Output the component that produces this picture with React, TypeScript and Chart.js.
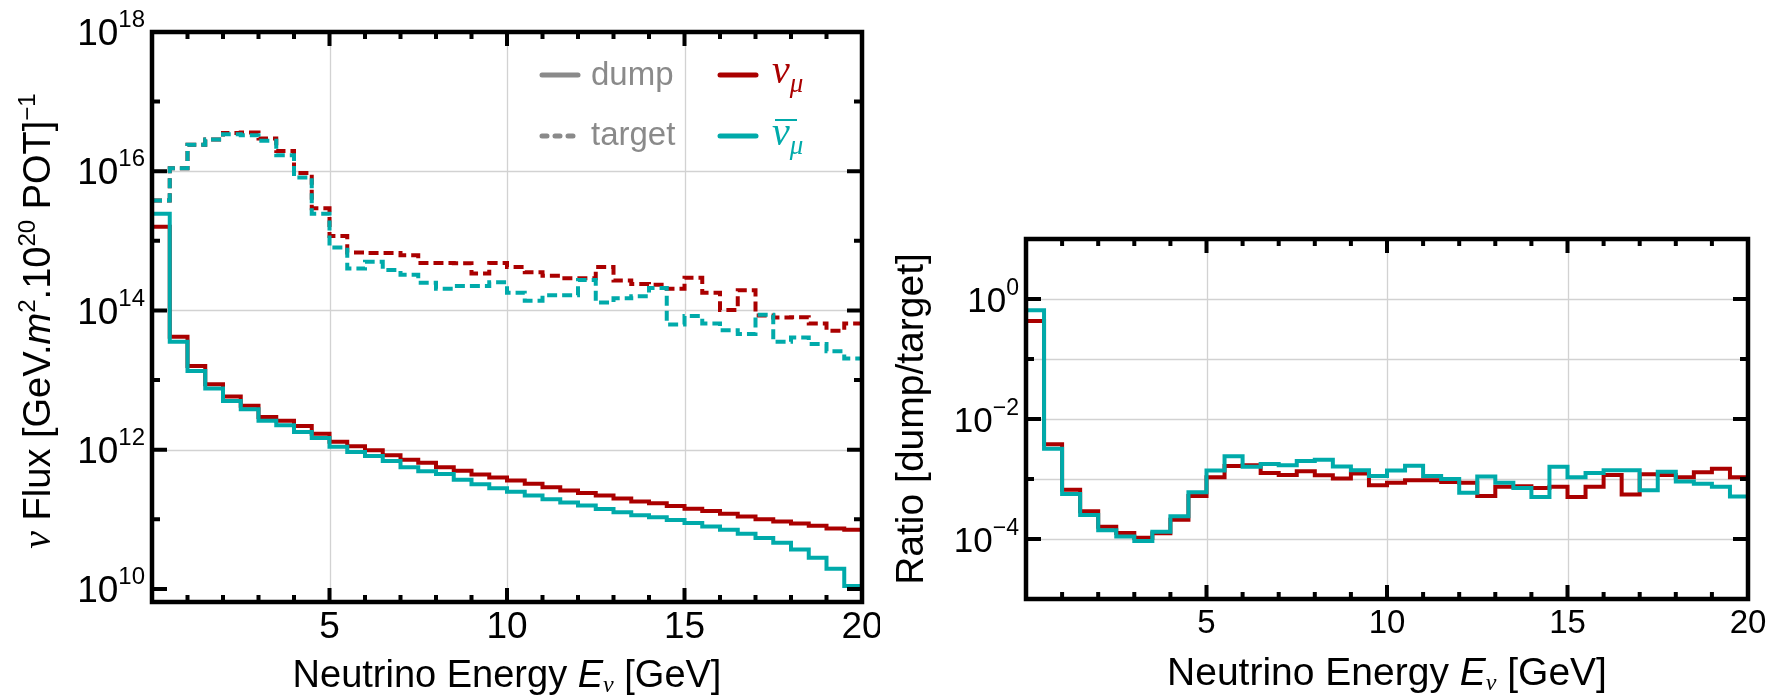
import React, { useEffect, useRef } from 'react';
import { Chart, registerables } from 'chart.js';

Chart.register(...registerables);

// ---------- data ----------
const BIN_EDGES = [0, 0.5, 1, 1.5, 2, 2.5, 3, 3.5, 4, 4.5, 5, 5.5, 6, 6.5, 7, 7.5, 8, 8.5, 9, 9.5, 10,
  10.5, 11, 11.5, 12, 12.5, 13, 13.5, 14, 14.5, 15, 15.5, 16, 16.5, 17, 17.5, 18, 18.5, 19, 19.5, 20];

const TARGET_NUMU = [3.8e15, 1.1e16, 2.4e16, 2.85e16, 3.55e16, 3.6e16, 2.95e16, 1.95e16, 9.4e15, 2.95e15,
  1.17e15, 6.8e14, 6.7e14, 6.7e14, 6.2e14, 4.8e14, 4.8e14, 4.75e14, 3.4e14, 4.8e14,
  4.2e14, 3.55e14, 3.15e14, 2.9e14, 2.9e14, 4.2e14, 2.7e14, 2.4e14, 2.35e14, 2.05e14,
  2.95e14, 1.8e14, 1.02e14, 1.95e14, 8.5e13, 7.9e13, 8.0e13, 6.5e13, 5.1e13, 6.5e13];

const TARGET_NUMUBAR = [3.8e15, 1.1e16, 2.4e16, 2.85e16, 3.4e16, 3.3e16, 2.75e16, 1.7e16, 8.1e15, 2.45e15,
  8.0e14, 4.0e14, 5.0e14, 3.8e14, 3.25e14, 2.5e14, 2.05e14, 2.25e14, 2.25e14, 2.55e14,
  1.8e14, 1.38e14, 1.65e14, 1.65e14, 2.75e14, 1.3e14, 1.5e14, 1.6e14, 2.1e14, 6.3e13,
  8.3e13, 6.5e13, 5.2e13, 4.6e13, 8.7e13, 3.55e13, 4.1e13, 3.3e13, 2.6e13, 2.05e13];

const DUMP_NUMU = [1.6e15, 4.2e13, 1.6e13, 8.7e12, 5.8e12, 4.3e12, 2.95e12, 2.6e12, 2.2e12, 1.7e12,
  1.3e12, 1.12e12, 9.8e11, 8.3e11, 7.2e11, 6.5e11, 5.6e11, 5.0e11, 4.4e11, 4.0e11,
  3.6e11, 3.25e11, 2.9e11, 2.6e11, 2.4e11, 2.2e11, 2.0e11, 1.8e11, 1.7e11, 1.55e11,
  1.42e11, 1.32e11, 1.2e11, 1.1e11, 1.0e11, 9.3e10, 8.7e10, 8.1e10, 7.4e10, 7.1e10];

const DUMP_NUMUBAR = [2.45e15, 3.55e13, 1.35e13, 7.6e12, 5.0e12, 3.8e12, 2.6e12, 2.25e12, 1.8e12, 1.48e12,
  1.1e12, 9.3e11, 8.1e11, 6.9e11, 5.6e11, 4.9e11, 4.5e11, 3.7e11, 3.2e11, 2.8e11,
  2.5e11, 2.2e11, 1.95e11, 1.74e11, 1.58e11, 1.41e11, 1.26e11, 1.15e11, 1.07e11, 9.8e10,
  8.9e10, 7.9e10, 7.1e10, 6.2e10, 5.4e10, 4.6e10, 3.7e10, 2.8e10, 1.95e10, 1.1e10];

const RATIO_NUMU = [0.43, 3.8e-3, 6.6e-4, 2.9e-4, 1.6e-4, 1.26e-4, 1.05e-4, 1.25e-4, 2.1e-4, 5.2e-4,
  1.07e-3, 1.65e-3, 1.7e-3, 1.26e-3, 1.17e-3, 1.35e-3, 1.15e-3, 1.02e-3, 1.23e-3, 7.9e-4,
  8.7e-4, 9.5e-4, 9.5e-4, 8.9e-4, 8.7e-4, 5.2e-4, 7.4e-4, 7.6e-4, 7.1e-4, 7.4e-4,
  5.0e-4, 7.4e-4, 1.17e-3, 5.5e-4, 1.2e-3, 1.17e-3, 1.07e-3, 1.29e-3, 1.48e-3, 1.07e-3];

const RATIO_NUMUBAR = [0.65, 3.2e-3, 5.6e-4, 2.5e-4, 1.4e-4, 1.1e-4, 9.3e-5, 1.32e-4, 2.4e-4, 6.0e-4,
  1.38e-3, 2.4e-3, 1.6e-3, 1.78e-3, 1.7e-3, 2.0e-3, 2.1e-3, 1.62e-3, 1.4e-3, 1.12e-3,
  1.38e-3, 1.66e-3, 1.12e-3, 1.0e-3, 5.9e-4, 1.1e-3, 8.7e-4, 7.1e-4, 5.0e-4, 1.6e-3,
  1.07e-3, 1.26e-3, 1.4e-3, 1.4e-3, 6.5e-4, 1.32e-3, 9.1e-4, 8.3e-4, 7.4e-4, 5.1e-4];

const X_LABELS = [5, 10, 15, 20];
const X_GRID = [5, 10, 15];
const X_MAJOR = [5, 10, 15];
const X_MINOR = [1, 2, 3, 4, 6, 7, 8, 9, 11, 12, 13, 14, 16, 17, 18, 19];

const FLUX_Y_LABEL_EXP = [10, 12, 14, 16, 18];
const FLUX_Y_GRID_EXP = [12, 14, 16];
const FLUX_Y_MAJOR_EXP = [10, 12, 14, 16];
const FLUX_Y_MINOR_EXP = [11, 13, 15, 17];

const RATIO_Y_LABEL_EXP = [0, -2, -4];
const RATIO_Y_GRID_EXP = [0, -1, -2, -3, -4];
const RATIO_Y_MAJOR_EXP = [0, -2, -4];
const RATIO_Y_MINOR_EXP = [-1, -3];

// ---------- style ----------
const RED = '#aa0000';
const CYAN = '#00aaaa';
const GRAY = '#8a8a8a';
const GRID = '#d2d2d2';
const SANS = '"Liberation Sans", Arial, sans-serif';
const SERIF = '"Liberation Serif", "Times New Roman", serif';

type Seg = { t: string; font: string; dy?: number; color?: string };

function drawRich(ctx: CanvasRenderingContext2D, segs: Seg[], x: number, y: number, align: string, color: string) {
  let total = 0;
  for (const s of segs) { ctx.font = s.font; total += ctx.measureText(s.t).width; }
  let cx = align === 'right' ? x - total : align === 'center' ? x - total / 2 : x;
  ctx.textAlign = 'left';
  ctx.textBaseline = 'alphabetic';
  for (const s of segs) {
    ctx.font = s.font;
    ctx.fillStyle = s.color || color;
    ctx.fillText(s.t, cx, y + (s.dy || 0));
    cx += ctx.measureText(s.t).width;
  }
}

const steps = (vals: number[]) => BIN_EDGES.map((x, i) => ({ x, y: vals[Math.min(i, vals.length - 1)] }));

type Decor = {
  yLabelExp: number[]; yGridExp: number[]; yMajorExp: number[]; yMinorExp: number[];
  tickFont: number; supFont: number; supDy: number; xLabelFont: number;
  xTitleFont: number; yTitle: Seg[]; yTitleX: number; yTitleDy: number; xTitleDy: number;
  extra?: (ctx: CanvasRenderingContext2D) => void;
};

function makeDecor(d: Decor) {
  return {
    id: 'decor',
    beforeDatasetsDraw(chart: any) {
      const { ctx, chartArea: a, scales } = chart;
      ctx.save();
      ctx.strokeStyle = GRID;
      ctx.lineWidth = 1.3;
      ctx.beginPath();
      for (const v of X_GRID) {
        const px = Math.round(scales.x.getPixelForValue(v)) + 0.5;
        ctx.moveTo(px, a.top); ctx.lineTo(px, a.bottom);
      }
      for (const e of d.yGridExp) {
        const py = Math.round(scales.y.getPixelForValue(Math.pow(10, e))) + 0.5;
        ctx.moveTo(a.left, py); ctx.lineTo(a.right, py);
      }
      ctx.stroke();
      ctx.restore();
    },
    afterDraw(chart: any) {
      const { ctx, chartArea: a, scales } = chart;
      ctx.save();
      // ticks
      ctx.strokeStyle = '#000';
      ctx.lineWidth = 4;
      ctx.lineCap = 'butt';
      ctx.beginPath();
      const xt = (vals: number[], len: number) => {
        for (const v of vals) {
          const px = scales.x.getPixelForValue(v);
          ctx.moveTo(px, a.bottom); ctx.lineTo(px, a.bottom - len);
          ctx.moveTo(px, a.top); ctx.lineTo(px, a.top + len);
        }
      };
      const yt = (exps: number[], len: number) => {
        for (const e of exps) {
          const py = scales.y.getPixelForValue(Math.pow(10, e));
          ctx.moveTo(a.left, py); ctx.lineTo(a.left + len, py);
          ctx.moveTo(a.right, py); ctx.lineTo(a.right - len, py);
        }
      };
      xt(X_MAJOR, 14); xt(X_MINOR, 7);
      yt(d.yMajorExp, 15); yt(d.yMinorExp, 8);
      ctx.stroke();
      // frame
      ctx.lineWidth = 4.5;
      ctx.strokeRect(a.left, a.top, a.right - a.left, a.bottom - a.top);
      // y tick labels
      for (const e of d.yLabelExp) {
        const py = scales.y.getPixelForValue(Math.pow(10, e));
        const exp = e < 0 ? '\u2212' + String(-e) : String(e);
        drawRich(ctx, [
          { t: '10', font: `${d.tickFont}px ${SANS}` },
          { t: exp, font: `${d.supFont}px ${SANS}`, dy: -d.supDy },
        ], a.left - 7, py + d.tickFont * 0.358, 'right', '#000');
      }
      // x tick labels
      ctx.font = `${d.xLabelFont}px ${SANS}`;
      ctx.fillStyle = '#000';
      ctx.textAlign = 'center';
      ctx.textBaseline = 'alphabetic';
      for (const v of X_LABELS) {
        const px = scales.x.getPixelForValue(v);
        ctx.fillText(String(v), px, a.bottom + 10 + d.xLabelFont * 0.716);
      }
      // x title
      const xf = d.xTitleFont;
      drawRich(ctx, [
        { t: 'Neutrino Energy ', font: `${xf}px ${SANS}` },
        { t: 'E', font: `italic ${xf}px ${SANS}` },
        { t: '\u03BD', font: `italic ${Math.round(xf * 0.62)}px ${SERIF}`, dy: 5 },
        { t: ' [GeV]', font: `${xf}px ${SANS}` },
      ], (a.left + a.right) / 2, a.bottom + d.xTitleDy, 'center', '#000');
      // y title
      ctx.save();
      ctx.translate(d.yTitleX, (a.top + a.bottom) / 2 + d.yTitleDy);
      ctx.rotate(-Math.PI / 2);
      drawRich(ctx, d.yTitle, 0, 0, 'center', '#000');
      ctx.restore();
      if (d.extra) d.extra(ctx);
      ctx.restore();
    },
  };
}

function fluxLegend(ctx: CanvasRenderingContext2D) {
  ctx.save();
  ctx.lineCap = 'round';
  ctx.lineWidth = 5;
  ctx.strokeStyle = GRAY;
  ctx.beginPath(); ctx.moveTo(542, 75); ctx.lineTo(578, 75); ctx.stroke();
  ctx.setLineDash([5, 8]);
  ctx.beginPath(); ctx.moveTo(542, 136); ctx.lineTo(578, 136); ctx.stroke();
  ctx.setLineDash([]);
  ctx.strokeStyle = RED;
  ctx.beginPath(); ctx.moveTo(720, 75); ctx.lineTo(756, 75); ctx.stroke();
  ctx.strokeStyle = CYAN;
  ctx.beginPath(); ctx.moveTo(720, 136); ctx.lineTo(756, 136); ctx.stroke();
  ctx.restore();

  drawRich(ctx, [{ t: 'dump', font: `33px ${SANS}` }], 591, 85, 'left', GRAY);
  drawRich(ctx, [{ t: 'target', font: `33px ${SANS}` }], 591, 145, 'left', GRAY);
  drawRich(ctx, [
    { t: '\u03BD', font: `italic 40px ${SERIF}` },
    { t: '\u03BC', font: `italic 27px ${SERIF}`, dy: 9 },
  ], 772, 83, 'left', RED);
  drawRich(ctx, [
    { t: '\u03BD', font: `italic 40px ${SERIF}` },
    { t: '\u03BC', font: `italic 27px ${SERIF}`, dy: 9 },
  ], 772, 145, 'left', CYAN);
  ctx.save();
  ctx.strokeStyle = CYAN;
  ctx.lineWidth = 2;
  ctx.beginPath(); ctx.moveTo(775, 120); ctx.lineTo(797, 120); ctx.stroke();
  ctx.restore();
}

function lineDs(vals: number[], color: string, dashed: boolean, order: number) {
  return {
    data: steps(vals),
    borderColor: color,
    backgroundColor: color,
    borderWidth: 4,
    borderDash: dashed ? [10, 5] : [],
    stepped: true,
    pointRadius: 0,
    fill: false,
    order,
    borderJoinStyle: 'miter',
  };
}

function baseOptions(yMin: number, yMax: number, yWidth: number, xHeight: number, padding: any) {
  return {
    responsive: false,
    animation: false,
    events: [],
    layout: { padding },
    plugins: { legend: { display: false }, tooltip: { enabled: false }, title: { display: false } },
    scales: {
      x: {
        type: 'linear', min: 0, max: 20,
        grid: { display: false }, border: { display: false }, ticks: { display: false },
        afterFit: (s: any) => { s.height = xHeight; },
      },
      y: {
        type: 'logarithmic', min: yMin, max: yMax,
        grid: { display: false }, border: { display: false }, ticks: { display: false },
        afterFit: (s: any) => { s.width = yWidth; },
      },
    },
  };
}

function FluxChart() {
  const ref = useRef<HTMLCanvasElement>(null);
  useEffect(() => {
    const decor = makeDecor({
      yLabelExp: FLUX_Y_LABEL_EXP, yGridExp: FLUX_Y_GRID_EXP, yMajorExp: FLUX_Y_MAJOR_EXP, yMinorExp: FLUX_Y_MINOR_EXP,
      tickFont: 37, supFont: 24, supDy: 18, xLabelFont: 37, xTitleFont: 38, xTitleDy: 85, yTitleX: 50, yTitleDy: 4,
      yTitle: [
        { t: '\u03BD', font: `italic 40px ${SERIF}` },
        { t: ' Flux [GeV.', font: `38px ${SANS}` },
        { t: 'm', font: `italic 38px ${SANS}` },
        { t: '2', font: `24px ${SANS}`, dy: -15 },
        { t: '.10', font: `38px ${SANS}` },
        { t: '20', font: `24px ${SANS}`, dy: -15 },
        { t: ' POT]', font: `38px ${SANS}` },
        { t: '\u22121', font: `24px ${SANS}`, dy: -15 },
      ],
      extra: fluxLegend,
    });
    const chart = new Chart(ref.current as HTMLCanvasElement, {
      type: 'line',
      data: {
        datasets: [
          lineDs(TARGET_NUMU, RED, true, 2),
          lineDs(TARGET_NUMUBAR, CYAN, true, 1),
          lineDs(DUMP_NUMU, RED, false, 2),
          lineDs(DUMP_NUMUBAR, CYAN, false, 1),
        ] as any,
      },
      options: baseOptions(6.5e9, 1e18, 152, 95, { top: 32, right: 18, left: 0, bottom: 0 }) as any,
      plugins: [decor as any],
    });
    return () => chart.destroy();
  }, []);
  return <canvas ref={ref} width={880} height={697} style={{ position: 'absolute', left: 0, top: 0, display: 'block' }} />;
}

function RatioChart() {
  const ref = useRef<HTMLCanvasElement>(null);
  useEffect(() => {
    const decor = makeDecor({
      yLabelExp: RATIO_Y_LABEL_EXP, yGridExp: RATIO_Y_GRID_EXP, yMajorExp: RATIO_Y_MAJOR_EXP, yMinorExp: RATIO_Y_MINOR_EXP,
      tickFont: 35, supFont: 23, supDy: 17, xLabelFont: 33, xTitleFont: 39, xTitleDy: 86, yTitleX: 43, yTitleDy: 0,
      yTitle: [{ t: 'Ratio [dump/target]', font: `39px ${SANS}` }],
    });
    const chart = new Chart(ref.current as HTMLCanvasElement, {
      type: 'line',
      data: {
        datasets: [
          lineDs(RATIO_NUMU, RED, false, 2),
          lineDs(RATIO_NUMUBAR, CYAN, false, 1),
        ] as any,
      },
      options: baseOptions(1e-5, 10, 146, 98, { top: 239, right: 35, left: 0, bottom: 0 }) as any,
      plugins: [decor as any],
    });
    return () => chart.destroy();
  }, []);
  return <canvas ref={ref} width={903} height={697} style={{ position: 'absolute', left: 880, top: 0, display: 'block' }} />;
}

export default function App() {
  useEffect(() => {
    document.body.style.margin = '0';
    document.body.style.background = '#ffffff';
  }, []);
  return (
    <div style={{ position: 'relative', width: 1783, height: 697, background: '#fff', overflow: 'hidden' }}>
      <FluxChart />
      <RatioChart />
    </div>
  );
}
